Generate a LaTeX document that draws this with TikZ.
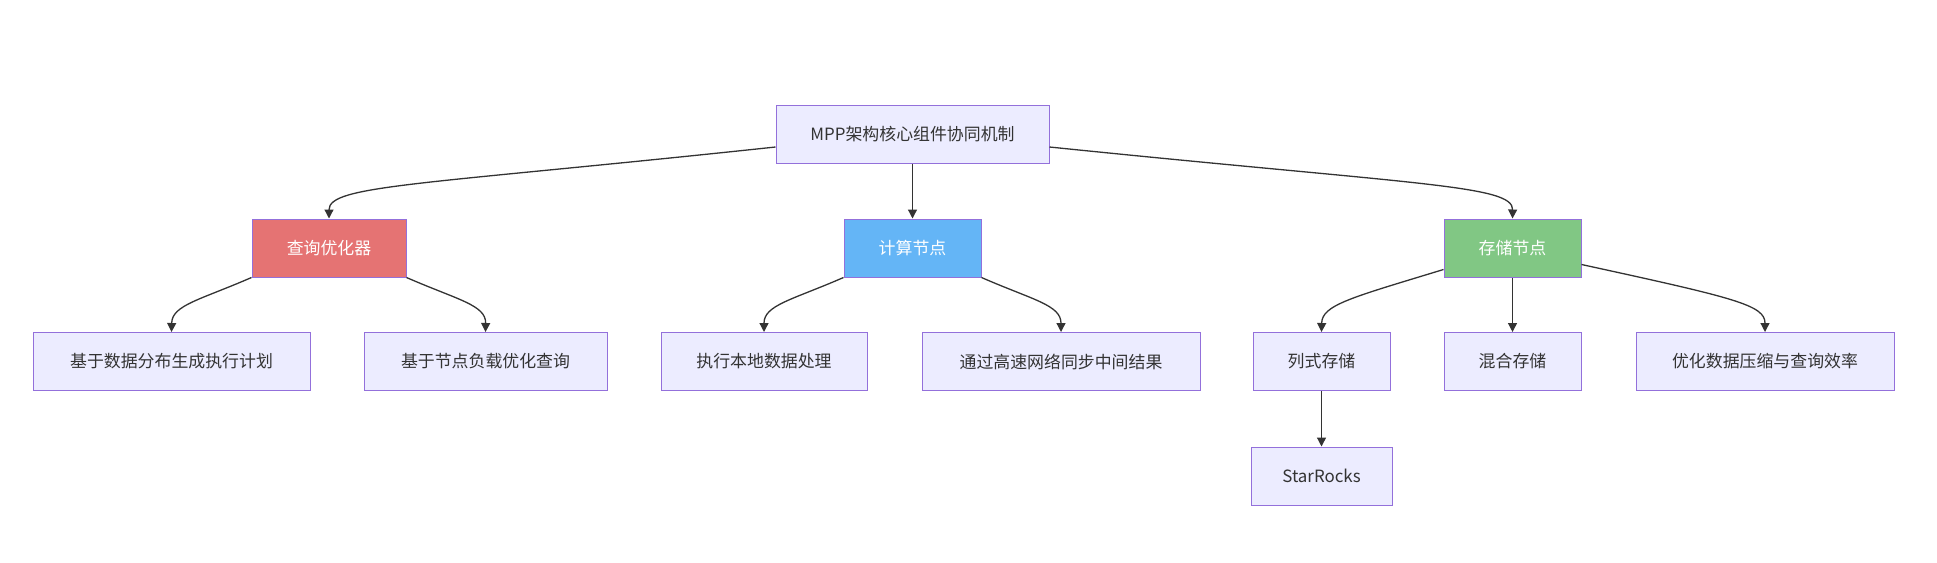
\documentclass[tikz,border=0pt]{standalone}
\usepackage{fontspec}
\setmainfont{Noto Sans CJK SC}
\usetikzlibrary{arrows.meta,calc}
\definecolor{boxfill}{HTML}{ECECFF}
\definecolor{boxline}{HTML}{9370DB}
\definecolor{edgecol}{HTML}{333333}
\definecolor{redfill}{HTML}{E57373}
\definecolor{bluefill}{HTML}{64B5F6}
\definecolor{greenfill}{HTML}{81C784}
\begin{document}
\begin{tikzpicture}[x=1pt,y=-1pt,
  box/.style={draw=boxline,fill=boxfill,line width=1pt,inner sep=0pt,
    minimum height=58pt,text=edgecol,font=\fontsize{16.9}{20}\selectfont},
  colbox/.style={box,text=white},
  edge/.style={draw=edgecol,line width=1.3pt,-{Triangle[length=9pt,width=9pt]}}]
\useasboundingbox (0,0) rectangle (1937,562);
\node[box,minimum width=273pt] (main) at (912.5,134) {MPP架构核心组件协同机制};
\node[colbox,fill=redfill,minimum width=154pt] (qo) at (329,248) {查询优化器};
\node[colbox,fill=bluefill,minimum width=137pt] (cn) at (912.5,248) {计算节点};
\node[colbox,fill=greenfill,minimum width=137pt] (sn) at (1512.5,248) {存储节点};
\node[box,minimum width=277pt] (a) at (171.5,361.5) {基于数据分布生成执行计划};
\node[box,minimum width=243pt] (b) at (485.5,361.5) {基于节点负载优化查询};
\node[box,minimum width=206pt] (c) at (764,361.5) {执行本地数据处理};
\node[box,minimum width=278pt] (d) at (1061,361.5) {通过高速网络同步中间结果};
\node[box,minimum width=137pt] (e) at (1321.5,361.5) {列式存储};
\node[box,minimum width=137pt] (f) at (1512.5,361.5) {混合存储};
\node[box,minimum width=258pt] (g) at (1765,361.5) {优化数据压缩与查询效率};
\node[box,minimum width=141pt] (sr) at (1321.5,476) {StarRocks};
% level 1 edges
\draw[edge] ([yshift=-13pt]main.west) .. controls (420,185) and (329,185) .. (qo.north);
\draw[edge] (main.south) -- (cn.north);
\draw[edge] ([yshift=-13pt]main.east) .. controls (1420,185) and (1513,185) .. (sn.north);
% level 2 edges
\draw[edge] (qo.south west) .. controls (200,300) and (172,305) .. (a.north);
\draw[edge] (qo.south east) .. controls (458,300) and (486,305) .. (b.north);
\draw[edge] (cn.south west) .. controls (792,300) and (764,305) .. (c.north);
\draw[edge] (cn.south east) .. controls (1033,300) and (1061,305) .. (d.north);
\draw[edge] ([yshift=8pt]sn.south west) .. controls (1350,298) and (1322,305) .. (e.north);
\draw[edge] (sn.south) -- (f.north);
\draw[edge] ([yshift=13pt]sn.south east) .. controls (1735,298) and (1765,305) .. (g.north);
\draw[edge] (e.south) -- (sr.north);
\end{tikzpicture}
\end{document}
